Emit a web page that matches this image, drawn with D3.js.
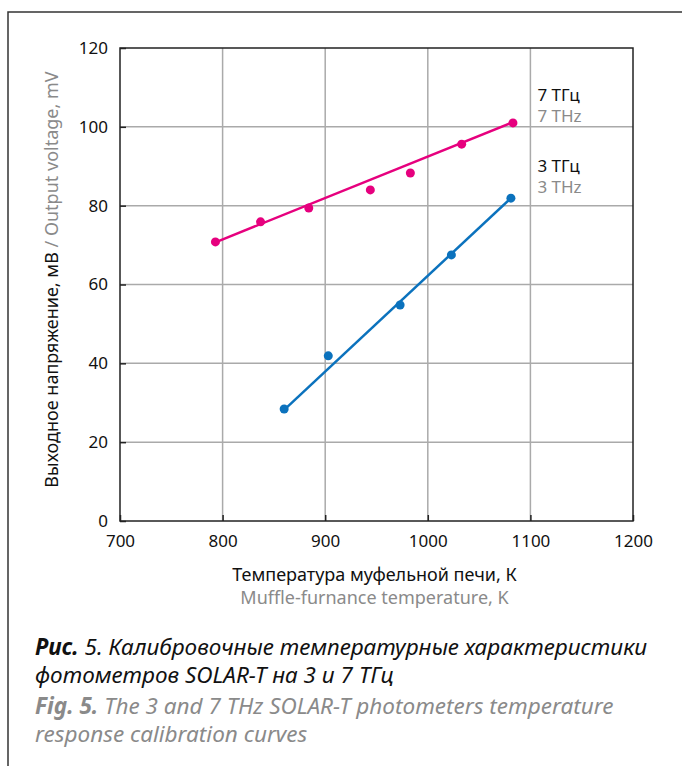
<!DOCTYPE html>
<html>
<head>
<meta charset="utf-8">
<script src="https://cdn.jsdelivr.net/npm/d3@7"></script>
<style>
  body { margin: 0; background: #fff; }
  svg text { font-family: "Noto Sans", sans-serif; }
</style>
</head>
<body>
<div id="chart"></div>
<script>
// data
var xTicks = [700, 800, 900, 1000, 1100, 1200];
var yTicks = [0, 20, 40, 60, 80, 100, 120];

var t7 = [793, 837, 884, 944, 983, 1033, 1083];
var v7 = [70.8, 75.9, 79.4, 84.0, 88.3, 95.6, 101.0];
var t3 = [860, 903, 973, 1023, 1081];
var v3 = [28.4, 41.9, 54.8, 67.5, 81.9];

// trend line end points
var fit7T = [793, 1083];
var fit7V = [70.7, 101.2];
var fit3T = [860, 1081];
var fit3V = [28.2, 81.9];

var C7 = "#e6007e", C3 = "#0b72bd";
var GRAY = "#8a8a8a";

var W = 682, H = 766;
var margin = { top: 48, right: 49, bottom: 245, left: 120 };
var iW = W - margin.left - margin.right;
var iH = H - margin.top - margin.bottom;

var root = d3.select("#chart").append("svg")
    .attr("width", W).attr("height", H);

// outer frame
root.append("path")
    .attr("d", "M8,766 L8,12 L690,12")
    .attr("fill", "none")
    .attr("stroke", "#333")
    .attr("stroke-width", 1.5);

var svg = root.append("g")
    .attr("transform", "translate(" + margin.left + "," + margin.top + ")");

var x = d3.scaleLinear().domain([700, 1200]).range([0, iW]);
var y = d3.scaleLinear().domain([0, 120]).range([iH, 0]);

// grid
svg.append("g").selectAll("line.gx")
    .data(xTicks.slice(1, -1)).enter().append("line")
    .attr("x1", x).attr("x2", x)
    .attr("y1", 0).attr("y2", iH)
    .attr("stroke", "#aaa").attr("stroke-width", 1.5);
svg.append("g").selectAll("line.gy")
    .data(yTicks.slice(1, -1)).enter().append("line")
    .attr("x1", 0).attr("x2", iW)
    .attr("y1", y).attr("y2", y)
    .attr("stroke", "#aaa").attr("stroke-width", 1.5);

// plot frame
svg.append("rect")
    .attr("width", iW).attr("height", iH)
    .attr("fill", "none")
    .attr("stroke", "#222").attr("stroke-width", 1.5);

// axes (ticks inward)
var ax = svg.append("g").attr("transform", "translate(0," + iH + ")")
    .call(d3.axisBottom(x).tickValues(xTicks).tickSize(-6).tickPadding(14)
        .tickSizeOuter(0).tickFormat(d3.format("d")));
var ay = svg.append("g")
    .call(d3.axisLeft(y).tickValues(yTicks).tickSize(-6).tickPadding(12)
        .tickSizeOuter(0).tickFormat(d3.format("d")));

[ax, ay].forEach(function (a) {
    a.select(".domain").remove();
    a.selectAll("line").attr("stroke", "#222").attr("stroke-width", 1.5);
    a.selectAll("text")
        .style("font-family", "'Noto Sans', sans-serif")
        .style("font-size", "17px")
        .attr("fill", "#111");
});

// series
function pts(ts, vs) { return ts.map(function (t, i) { return [t, vs[i]]; }); }

var line = d3.line()
    .x(function (d) { return x(d[0]); })
    .y(function (d) { return y(d[1]); });

svg.append("path").datum(pts(fit7T, fit7V))
    .attr("d", line).attr("fill", "none")
    .attr("stroke", C7).attr("stroke-width", 2.5);
svg.append("path").datum(pts(fit3T, fit3V))
    .attr("d", line).attr("fill", "none")
    .attr("stroke", C3).attr("stroke-width", 2.5);

svg.append("g").selectAll("circle")
    .data(pts(t7, v7)).enter().append("circle")
    .attr("cx", function (d) { return x(d[0]); })
    .attr("cy", function (d) { return y(d[1]); })
    .attr("r", 4.5).attr("fill", C7);
svg.append("g").selectAll("circle")
    .data(pts(t3, v3)).enter().append("circle")
    .attr("cx", function (d) { return x(d[0]); })
    .attr("cy", function (d) { return y(d[1]); })
    .attr("r", 4.5).attr("fill", C3);

// series labels
var labels = [
    { ru: "7 ТГц", en: "7 THz", v: 106.5 },
    { ru: "3 ТГц", en: "3 THz", v: 88.5 }
];
labels.forEach(function (d) {
    var g = svg.append("text")
        .attr("x", x(1100) + 7)
        .attr("y", y(d.v))
        .style("font-size", "17px");
    g.append("tspan").attr("fill", "#111").text(d.ru);
    g.append("tspan").attr("x", x(1100) + 7).attr("dy", 21).attr("fill", GRAY).text(d.en);
});

// axis titles
var xt = svg.append("text")
    .attr("x", iW / 2 - 2).attr("y", iH + 60)
    .attr("text-anchor", "middle")
    .style("font-size", "18px");
xt.append("tspan").attr("fill", "#111").text("Температура муфельной печи, К");
xt.append("tspan").attr("x", iW / 2 - 2).attr("dy", 23).attr("fill", GRAY)
    .text("Muffle-furnance temperature, K");

var yt = svg.append("text")
    .attr("transform", "rotate(-90)")
    .attr("x", -iH / 2 + 5).attr("y", -62)
    .attr("text-anchor", "middle")
    .style("font-size", "18px");
yt.append("tspan").attr("fill", "#111").text("Выходное напряжение, мВ ");
yt.append("tspan").attr("fill", GRAY).text("/ Output voltage, mV");

// caption
var cap = [
    { b: "Рис.", t: " 5. Калибровочные температурные характеристики", c: "#111", y: 655 },
    { b: "", t: "фотометров SOLAR-T на 3 и 7 ТГц", c: "#111", y: 683 },
    { b: "Fig. 5.", t: " The 3 and 7 THz SOLAR-T photometers temperature", c: GRAY, y: 714 },
    { b: "", t: "response calibration curves", c: GRAY, y: 742 }
];
cap.forEach(function (d) {
    var tx = root.append("text")
        .attr("x", 35).attr("y", d.y)
        .attr("fill", d.c)
        .style("font-size", "22.5px")
        .style("font-style", "italic");
    if (d.b) tx.append("tspan").style("font-weight", "bold").text(d.b);
    tx.append("tspan").text(d.t);
});
</script>
</body>
</html>
